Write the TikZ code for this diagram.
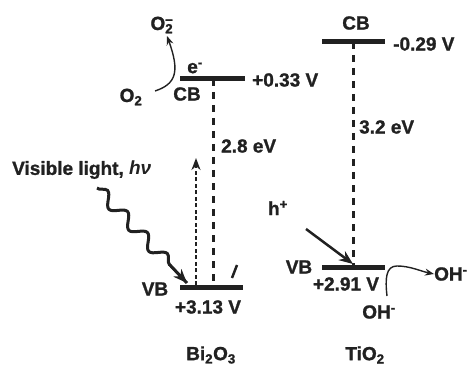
\documentclass[tikz,border=0pt]{standalone}
\usepackage{fontspec}
\setmainfont{Liberation Sans}[BoldFeatures={FakeBold=1.2}]
\usetikzlibrary{arrows.meta,decorations.pathmorphing,calc}
\newcommand{\sbs}[1]{\textsubscript{#1}}
\newcommand{\sps}[1]{\textsuperscript{#1}}
\begin{document}
\begin{tikzpicture}[x=1pt,y=-1pt,
  lbl/.style={font=\fontsize{19}{21}\selectfont\bfseries, inner sep=0pt, text=black!87},
  level/.style={line width=5pt, black!87},
  gap/.style={line width=3pt, black!87, dash pattern=on 7pt off 6pt},
  excite/.style={line width=2pt, black!87, dash pattern=on 4pt off 2.5pt, -{Stealth[length=12pt,width=9pt]}},
  thinarrow/.style={line width=1.4pt, black!87, -{Stealth[length=9pt,width=7pt]}},
  harrow/.style={line width=2.5pt, black!87, -{Stealth[length=14pt,width=11pt]}},
  wave/.style={line width=3pt, black!87, decorate, decoration={snake, segment length=29pt, amplitude=6pt, post length=20pt}},
]
\useasboundingbox (0,0) rectangle (472,369);
% level endpoints
\coordinate (bicbL) at (180,79);  \coordinate (bicbR) at (245,79);
\coordinate (bivbL) at (180,287); \coordinate (bivbR) at (243,287);
\coordinate (ticbL) at (322,42);  \coordinate (ticbR) at (385,42);
\coordinate (tivbL) at (322,267); \coordinate (tivbR) at (385,267);
\coordinate (bigapT) at (213,79); \coordinate (bigapB) at (213,287);
\coordinate (tigapT) at (353,42); \coordinate (tigapB) at (353,267);
% gaps
\draw[gap] (bigapT) -- (bigapB);
\draw[gap] (tigapT) -- (tigapB);
% levels
\draw[level] (bicbL) -- (bicbR);
\draw[level] (bivbL) -- (bivbR);
\draw[level] (ticbL) -- (ticbR);
\draw[level] (tivbL) -- (tivbR);
% labels Bi2O3
\node[lbl, anchor=west] (bicbv) at (252,80) {+0.33 V};
\node[lbl] (bie) at (195,68) {e\sps{-}};
\node[lbl] (bicb) at (187,94) {CB};
\node[lbl] (o2) at (131,97) {O\sbs{2}};
\node[lbl] (o2m) at (165,25) {O\rlap{\sps{--}}\sbs{2}\hphantom{-}};
\node[lbl, anchor=west] (gap1) at (221,146) {2.8 eV};
\node[lbl] (bivb) at (155,289) {VB};
\node[lbl] (bivbv) at (208,307) {+3.13 V};
\node[lbl, anchor=west] (vis) at (12,170) {Visible light, \textit{hν}};
\node[lbl] (bi) at (211,355) {Bi\sbs{2}O\sbs{3}};
% labels TiO2
\node[lbl] (ticb) at (356,23) {CB};
\node[lbl, anchor=west] (ticbv) at (393,44) {-0.29 V};
\node[lbl, anchor=west] (gap2) at (359,127) {3.2 eV};
\node[lbl] (hp) at (278,208) {h\sps{+}};
\node[lbl] (tivb) at (299,267) {VB};
\node[lbl] (tivbv) at (346,284) {+2.91 V};
\node[lbl, anchor=west] (ohr) at (434,274) {OH\sps{-}};
\node[lbl] (ohb) at (379,312) {OH\sps{-}};
\node[lbl] (ti) at (365,355) {TiO\sbs{2}};
% arrows
\coordinate (o2s) at (155,91);
\coordinate (o2e) at (167,36);
\draw[thinarrow] (o2s) .. controls (176,84) and (180,72) .. (o2e);
\coordinate (exB) at (196,285);
\coordinate (exT) at (196,158);
\draw[excite] (exB) -- (exT);
\coordinate (wS) at (97,188);
\coordinate (wE) at (187,283);
\draw[wave] (wS) -- (wE);
\draw[harrow] ($(wS)!0.8!(wE)$) -- (wE);
\coordinate (hS) at (306,229);
\coordinate (hE) at (353,264);
\draw[harrow] (hS) -- (hE);
\coordinate (ohS) at (387,296);
\draw[thinarrow] (ohS) .. controls (385,278) and (386,266) .. (397,266) .. controls (410,266) and (420,271) .. (ohr.west);
\coordinate (slA) at (232,278);
\coordinate (slB) at (237,265);
\draw[line width=2.5pt, black!87] (slA) -- (slB);
\end{tikzpicture}
\end{document}
